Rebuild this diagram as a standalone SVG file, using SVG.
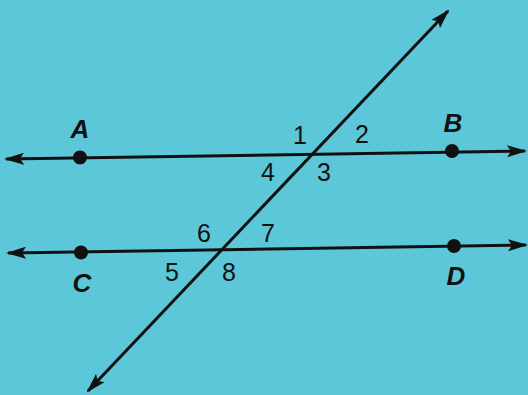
<svg xmlns="http://www.w3.org/2000/svg" width="528" height="395" viewBox="0 0 528 395">
<style>
.ln{stroke:#111;stroke-width:3;fill:none;marker-start:url(#ah);marker-end:url(#ah)}
.dot{fill:#111}
.pt{font-family:"Liberation Sans",Arial,sans-serif;font-size:26px;font-weight:bold;font-style:italic;fill:#111;text-anchor:middle}
.num{font-family:"Liberation Sans",Arial,sans-serif;font-size:25px;fill:#111;text-anchor:middle}
</style>
<defs>
<marker id="ah" viewBox="0 0 20 12" refX="18" refY="6" markerWidth="20" markerHeight="12" markerUnits="userSpaceOnUse" orient="auto-start-reverse">
<path d="M0,0 L20,6 L0,12 L4,6 Z" fill="#111"/>
</marker>
</defs>
<rect width="528" height="395" fill="#5cc7d8"/>
<g id="connectors">
<path class="ln" d="M6,159 L525,151"/>
<path class="ln" d="M8,253 L526,245"/>
<path class="ln" d="M88,391 L448,11"/>
</g>
<g id="A"><circle class="dot" cx="80" cy="157.5" r="7"/><text class="pt" x="80" y="138">A</text></g>
<g id="B"><circle class="dot" cx="452" cy="151" r="7"/><text class="pt" x="453" y="132">B</text></g>
<g id="C"><circle class="dot" cx="81" cy="252.5" r="7"/><text class="pt" x="82" y="292">C</text></g>
<g id="D"><circle class="dot" cx="454" cy="246" r="7"/><text class="pt" x="456" y="285">D</text></g>
<g id="angles">
<text class="num" x="300" y="144">1</text>
<text class="num" x="362" y="143">2</text>
<text class="num" x="324" y="181">3</text>
<text class="num" x="268" y="181">4</text>
<text class="num" x="172" y="281">5</text>
<text class="num" x="204" y="242">6</text>
<text class="num" x="268" y="242">7</text>
<text class="num" x="229" y="281">8</text>
</g>
</svg>
